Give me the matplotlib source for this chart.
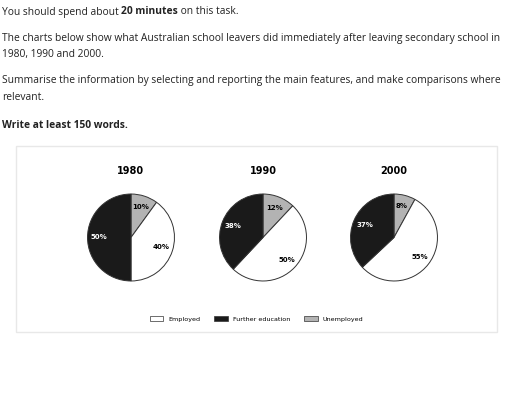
import matplotlib.pyplot as plt
from matplotlib.patches import Rectangle, Patch

# data
years = ["1980", "1990", "2000"]
categories = ["Employed", "Further education", "Unemployed"]
employed = [40, 50, 55]
further_education = [50, 38, 37]
unemployed = [10, 12, 8]

colors = {"Employed": "#ffffff", "Further education": "#1a1a1a", "Unemployed": "#b3b3b3"}

W, H = 512, 409
fig = plt.figure(figsize=(W / 100, H / 100), dpi=100)
fig.patch.set_facecolor("white")


def fx(px):
    return px / W


def fy(py):
    return 1 - py / H


# blank axes over the whole figure for the task text
tax = fig.add_axes([0, 0, 1, 1])
tax.set_xlim(0, W)
tax.set_ylim(H, 0)
tax.axis("off")

hfont = "Open Sans"
hsize = 7.35
hcol = "#222222"
kw = dict(family=hfont, size=hsize, color=hcol, va="center")

t1 = tax.text(2, 12, "You should spend about ", **kw)
b1 = tax.annotate("20 minutes", xy=(1, 0.5), xycoords=t1, weight="bold",
                  family=hfont, size=hsize, color=hcol, va="center")
tax.annotate(" on this task.", xy=(1, 0.5), xycoords=b1, **kw)

tax.text(2, 38, "The charts below show what Australian school leavers did immediately "
         "after leaving secondary school in", **kw)
tax.text(2, 54, "1980, 1990 and 2000.", **kw)
tax.text(2, 80, "Summarise the information by selecting and reporting the main features, "
         "and make comparisons where", **kw)
tax.text(2, 97, "relevant.", **kw)
tax.text(2, 125, "Write at least 150 words.", weight="bold", **kw)

# chart frame
tax.add_patch(Rectangle((16, 146), 481, 186, fill=False, edgecolor="#e8e8e8", linewidth=1.0))

centers = [131, 263, 394]
cy = 237.5
size = 100
for i, year in enumerate(years):
    vals = [unemployed[i], employed[i], further_education[i]]
    cols = [colors["Unemployed"], colors["Employed"], colors["Further education"]]
    ax = fig.add_axes([fx(centers[i] - size / 2), fy(cy + size / 2), fx(size), size / H])
    wedges, texts, autotexts = ax.pie(
        vals, colors=cols, startangle=90, counterclock=False,
        autopct="%d%%", pctdistance=0.74,
        wedgeprops=dict(edgecolor="#333333", linewidth=0.7),
        textprops=dict(size=5, weight="bold"))
    autotexts[2].set_color("white")
    ax.set_xlim(-1.15, 1.15)
    ax.set_ylim(-1.15, 1.15)
    ax.set_aspect("equal")
    ax.axis("off")
    tax.text(centers[i], 171, year, ha="center", va="center", size=7, weight="bold")

handles = [Patch(facecolor=colors[c], edgecolor="#333333", linewidth=0.5, label=c)
           for c in categories]
fig.legend(handles=handles, loc="center", bbox_to_anchor=(fx(256.5), fy(319)), ncol=3,
           frameon=False, fontsize=4.6, handlelength=2.1, handleheight=0.8,
           handletextpad=0.8, columnspacing=2.2)

fig.savefig("out.png", dpi=100)
